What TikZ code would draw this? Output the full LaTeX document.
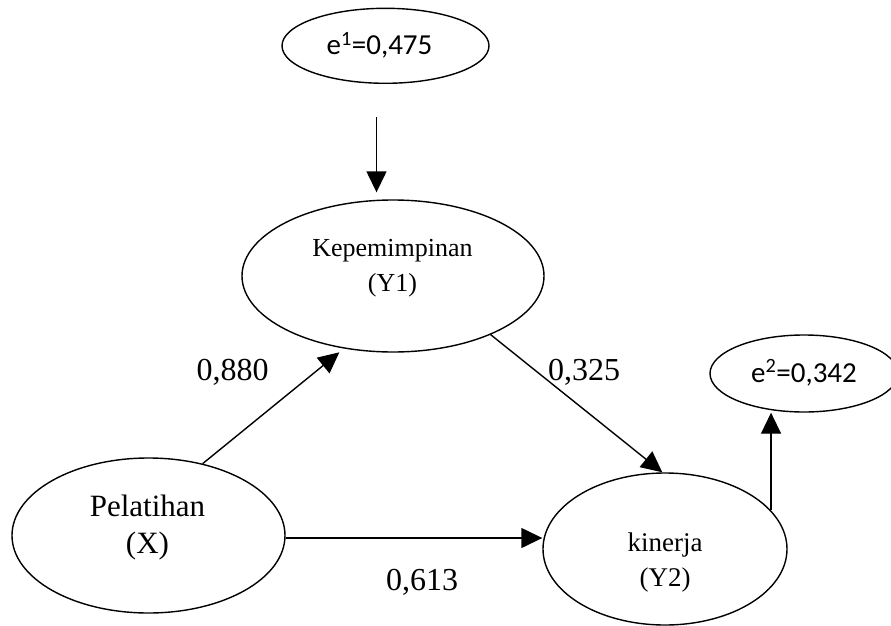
\documentclass[tikz,border=0pt]{standalone}
\usepackage{fontspec}
\setmainfont{Liberation Serif}
\newfontfamily\calibri{Carlito}
\usetikzlibrary{arrows.meta,shapes.geometric}
\begin{document}
\begin{tikzpicture}[x=1pt,y=-1pt,
    ell/.style={draw,ellipse,line width=1.4pt,inner sep=0pt},
    arr/.style={line width=1.4pt,-{Triangle[length=21pt,width=20pt]}},
    coef/.style={anchor=base,font=\fontsize{32}{38}\selectfont},
    err/.style={anchor=base,font=\calibri\fontsize{29}{35}\selectfont}]
  \useasboundingbox (0,0) rectangle (891,626);
  \node[ell,minimum width=207pt,minimum height=75pt] (e1) at (385.5,45.8) {};
  \node[ell,minimum width=302pt,minimum height=152pt] (kep) at (393,276) {};
  \node[ell,minimum width=273pt,minimum height=155pt] (pel) at (148.5,535.5) {};
  \node[ell,minimum width=244pt,minimum height=152pt] (kin) at (665,549) {};
  \node[ell,minimum width=188pt,minimum height=77pt] (e2) at (804,373.5) {};
  \node[err] (e1t) at (379.5,55) {e\textsuperscript{1}=0,475};
  \node[err] (e2t) at (804,382) {e\textsuperscript{2}=0,342};
  \node[align=center,font=\fontsize{26}{35}\selectfont] (kept) at (392.5,268) {Kepemimpinan\\(Y1)};
  \node[align=center,font=\fontsize{31}{37}\selectfont] (pelt) at (147.5,527.6) {Pelatihan\\(X)};
  \node[align=center,font=\fontsize{27}{35}\selectfont] (kint) at (665,562.7) {kinerja\\(Y2)};
  \draw[arr] ([xshift=-9pt,yshift=-33pt]e1.south) -- ([xshift=-16.5pt,yshift=7pt]kep.north);
  \draw[arr] (pel.53) -- ([shift={(-3pt,-4pt)}]kep.235);
  \draw[arr] (kep.-31) -- (kin.92);
  \draw[arr] ([yshift=-2.5pt]pel.east) -- ([yshift=-2.5pt]pel.east -| kin.west);
  \draw[arr] (kin.20) -- (kin.20 |- e2.south);
  \node[coef] (c1) at (232.5,380) {0,880};
  \node[coef] (c2) at (584,380) {0,325};
  \node[coef] (c3) at (422,590) {0,613};
\end{tikzpicture}
\end{document}
